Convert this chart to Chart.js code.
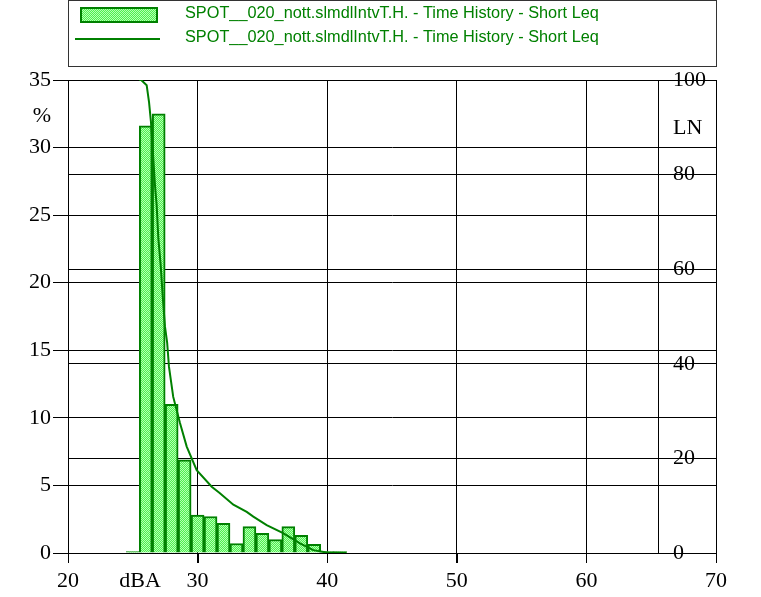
<!DOCTYPE html>
<html><head><meta charset="utf-8">
<script src="https://cdn.jsdelivr.net/npm/chart.js@4.4.1/dist/chart.umd.min.js"></script>
<style>html,body{margin:0;padding:0;background:#fff;}#wrap{position:relative;width:761px;height:597px;}</style>
</head><body><div id="wrap"><canvas id="c" width="761" height="597"></canvas></div>
<script>
// ---- data ----
const seriesLabel = 'SPOT__020_nott.slmdlIntvT.H. - Time History - Short Leq';
const binCenters = [25, 26, 27, 28, 29, 30, 31, 32, 33, 34, 35, 36, 37, 38, 39, 40, 41];
const binPercent = [0.1, 31.6, 32.5, 11.0, 6.9, 2.8, 2.7, 2.2, 0.7, 1.95, 1.45, 1.0, 1.95, 1.3, 0.65, 0.1, 0.1];
const lnLevels = [25.5, 25.65, 26.07, 26.25, 26.4, 26.58, 26.71, 26.84, 26.97, 27.15, 27.31, 27.48, 27.65, 27.79, 28.12, 28.64, 29.16, 29.93, 31.09, 31.7, 32.76, 33.79, 34.3, 35.33, 36.6, 37.9, 38.93, 39.96, 41.5];
const lnValues = [100, 100, 98.9, 95.4, 91.2, 83.4, 77.8, 73.6, 66.5, 60.9, 54.2, 47.9, 44.5, 39.4, 33.0, 27.5, 22.5, 17.5, 14.0, 12.7, 10.2, 8.7, 7.7, 5.9, 4.2, 2.05, 0.6, 0.1, 0];
const xTicks = [20, 30, 40, 50, 60, 70];
const pctTicks = [0, 5, 10, 15, 20, 25, 30, 35];
const lnTicks = [0, 20, 40, 60, 80, 100];
const xUnit = 'dBA', pctUnit = '%', lnUnit = 'LN';

// ---- styles ----
const GREEN = '#008000';
const pc = document.createElement('canvas'); pc.width = 2; pc.height = 2;
const pg = pc.getContext('2d');
pg.fillStyle = '#4ef04e'; pg.fillRect(0, 0, 2, 2);
pg.fillStyle = '#b4ffb4'; pg.fillRect(0, 0, 1, 1); pg.fillRect(1, 1, 1, 1);
const ctx0 = document.getElementById('c').getContext('2d');
const fillPattern = ctx0.createPattern(pc, 'repeat');

Chart.defaults.font.family = "'Liberation Serif', 'Times New Roman', serif";
Chart.defaults.font.size = 22;
Chart.defaults.color = '#000';

const decor = {
  id: 'decor',
  beforeDatasetsDraw(chart) {
    const {ctx, chartArea, scales} = chart;
    const x = Math.round(scales.x.getPixelForValue(65.5)) + 0.5;
    ctx.save();
    ctx.strokeStyle = '#000'; ctx.lineWidth = 1;
    ctx.beginPath(); ctx.moveTo(x, chartArea.top); ctx.lineTo(x, chartArea.bottom); ctx.stroke();
    ctx.restore();
  },
  afterDraw(chart) {
    const {ctx, chartArea, scales} = chart;
    ctx.save();
    // x tick marks below axis
    ctx.fillStyle = '#000';
    xTicks.forEach(v => {
      const x = Math.round(scales.x.getPixelForValue(v));
      ctx.fillRect(x, Math.round(chartArea.bottom), 1, 10);
    });
    // legend frame
    ctx.strokeStyle = '#333'; ctx.lineWidth = 1;
    ctx.strokeRect(68.5, 0.5, 648, 66);
    // bar symbol
    ctx.fillStyle = fillPattern; ctx.fillRect(80, 7, 78, 16);
    ctx.strokeStyle = GREEN; ctx.lineWidth = 2; ctx.strokeRect(81, 8, 76, 14);
    // line symbol
    ctx.beginPath(); ctx.moveTo(75, 39); ctx.lineTo(160, 39); ctx.stroke();
    ctx.fillStyle = GREEN; ctx.font = "16.3px 'Liberation Sans', Arial, sans-serif";
    ctx.textBaseline = 'middle'; ctx.textAlign = 'left';
    ctx.fillText(seriesLabel, 185, 14);
    ctx.fillText(seriesLabel, 185, 38);
    // unit labels
    ctx.fillStyle = '#000'; ctx.font = "22px 'Liberation Serif', 'Times New Roman', serif";
    ctx.textAlign = 'center';
    ctx.fillText(pctUnit, 42, 116);
    ctx.fillText(xUnit, 140, 581);
    ctx.textAlign = 'left';
    ctx.fillText(lnUnit, 673, 128);
    ctx.restore();
  }
};

new Chart(ctx0, {
  data: {
    datasets: [
      {
        type: 'bar', label: seriesLabel, yAxisID: 'y', order: 2,
        data: binCenters.map((c, i) => ({x: c, y: binPercent[i]})),
        backgroundColor: fillPattern, borderColor: GREEN, borderWidth: 2,
        barPercentage: 1, categoryPercentage: 1
      },
      {
        type: 'line', label: seriesLabel, yAxisID: 'y2', order: 1,
        data: lnLevels.map((l, i) => ({x: l, y: lnValues[i]})),
        borderColor: GREEN, borderWidth: 2, pointRadius: 0, tension: 0, fill: false
      }
    ]
  },
  options: {
    responsive: false, animation: false,
    layout: {padding: {top: 80, left: 0, right: 0, bottom: 0}},
    plugins: {legend: {display: false}, tooltip: {enabled: false}},
    scales: {
      x: {
        type: 'linear', position: 'bottom', min: 20, max: 70, offset: false,
        afterBuildTicks: s => { s.ticks = xTicks.map(v => ({value: v})); },
        ticks: {padding: 5, maxRotation: 0, autoSkip: false},
        grid: {color: '#000', tickColor: '#000', tickLength: 10, lineWidth: 1, offset: false},
        border: {display: true, color: '#000', width: 1},
        afterFit: s => { s.height = 44; }
      },
      y: {
        type: 'linear', position: 'left', min: 0, max: 35,
        afterBuildTicks: s => { s.ticks = pctTicks.map(v => ({value: v})); },
        ticks: {padding: 2},
        grid: {color: '#000', tickLength: 15, lineWidth: 1},
        border: {display: true, color: '#000', width: 1},
        afterFit: s => { s.width = 68; }
      },
      y2: {
        type: 'linear', position: 'right', min: 0, max: 100,
        afterBuildTicks: s => { s.ticks = lnTicks.map(v => ({value: v})); },
        ticks: {mirror: true, crossAlign: 'far', padding: -10},
        grid: {color: '#000', drawTicks: false, drawOnChartArea: true, lineWidth: 1},
        border: {display: true, color: '#000', width: 1},
        afterFit: s => { s.width = 45; }
      }
    }
  },
  plugins: [decor]
});
</script></body></html>
